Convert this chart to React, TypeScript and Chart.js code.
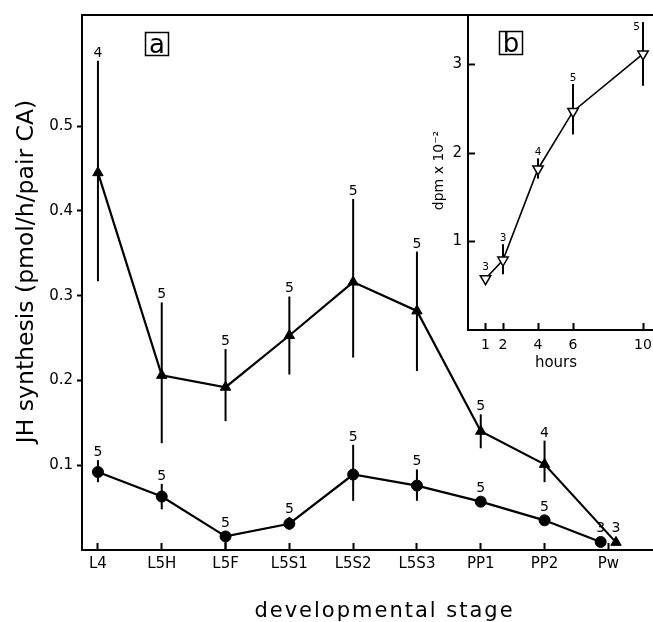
import React, { useEffect, useRef } from 'react';
import { Chart, registerables } from 'chart.js';
Chart.register(...registerables);

const FONT = 'DejaVu Sans';

// ---- Panel a : JH synthesis by developmental stage ----
const stages = ['L4', 'L5H', 'L5F', 'L5S1', 'L5S2', 'L5S3', 'PP1', 'PP2', 'Pw'];
const triMean = [0.445, 0.206, 0.192, 0.253, 0.316, 0.282, 0.140, 0.101, 0.009];
const triLow = [0.317, 0.126, 0.152, 0.207, 0.227, 0.211, 0.120, 0.080, 0.009];
const triHigh = [0.577, 0.292, 0.237, 0.299, 0.414, 0.352, 0.160, 0.129, 0.009];
const triN = [4, 5, 5, 5, 5, 5, 5, 4, 3];
const circMean = [0.092, 0.063, 0.016, 0.031, 0.089, 0.076, 0.057, 0.035, 0.0095];
const circLow = [0.080, 0.048, 0.0, 0.024, 0.058, 0.058, 0.054, 0.032, 0.0095];
const circHigh = [0.106, 0.078, 0.022, 0.039, 0.124, 0.095, 0.060, 0.038, 0.0095];
const circN = [5, 5, 5, 5, 5, 5, 5, 5, 3];
const yTicksA = [0.1, 0.2, 0.3, 0.4, 0.5];

// ---- Panel b : dpm vs hours ----
const hours = [1, 2, 4, 6, 10];
const dpm = [0.58, 0.79, 1.82, 2.47, 3.12];
const dpmLow = [0.55, 0.63, 1.71, 2.21, 2.76];
const dpmHigh = [0.61, 0.97, 1.94, 2.78, 3.48];
const dpmN = [3, 3, 4, 5, 5];
const hourTicks = [1, 2, 4, 6, 10];
const dpmTicks = [1, 2, 3];

const lastIdx = stages.length - 1;
const dodge = 0.12;
const triX = stages.map((_, i) => i + (i === lastIdx ? dodge : 0));
const circX = stages.map((_, i) => i - (i === lastIdx ? dodge : 0));

type Series = { xs: number[]; mean: number[]; low: number[]; high: number[]; n: number[]; radius: number; barWidth: number };

function makeErrorPlugin(id: string, series: Series[], fontSize: number, gap: number) {
  return {
    id,
    beforeDatasetsDraw(chart: any) {
      const { ctx, scales } = chart;
      const x = scales.x, y = scales.y;
      ctx.save();
      ctx.strokeStyle = '#000';
      series.forEach((s) => {
        ctx.lineWidth = s.barWidth;
        s.xs.forEach((xv, i) => {
          const px = x.getPixelForValue(xv);
          ctx.beginPath();
          ctx.moveTo(px, y.getPixelForValue(s.low[i]));
          ctx.lineTo(px, y.getPixelForValue(s.high[i]));
          ctx.stroke();
        });
      });
      ctx.restore();
    },
    afterDatasetsDraw(chart: any) {
      const { ctx, chartArea, scales } = chart;
      const x = scales.x, y = scales.y;
      ctx.save();
      ctx.fillStyle = '#000';
      ctx.font = `${fontSize}px "${FONT}"`;
      ctx.textBaseline = 'alphabetic';
      series.forEach((s) => {
        s.xs.forEach((xv, i) => {
          const px = x.getPixelForValue(xv);
          const top = Math.min(y.getPixelForValue(s.high[i]), y.getPixelForValue(s.mean[i]) - s.radius);
          let bx = px;
          let by = top - gap;
          ctx.textAlign = 'center';
          if (by - fontSize * 0.75 < chartArea.top + 2) {
            ctx.textAlign = 'right';
            bx = px - 3;
            by = top + fontSize * 0.8;
          }
          ctx.fillText(String(s.n[i]), bx, by);
        });
      });
      ctx.restore();
    },
  };
}

function boxLabel(ctx: any, text: string, left: number, top: number, size: number, fontSize: number) {
  ctx.save();
  ctx.strokeStyle = '#000';
  ctx.lineWidth = 1.5;
  ctx.strokeRect(left + 0.5, top + 0.5, size, size);
  ctx.fillStyle = '#000';
  ctx.font = `${fontSize}px "${FONT}"`;
  ctx.textAlign = 'center';
  ctx.textBaseline = 'alphabetic';
  ctx.fillText(text, left + size / 2 + 0.5, top + size - 2);
  ctx.restore();
}

const mainAnnot = {
  id: 'mainAnnot',
  afterDraw(chart: any) {
    const { ctx, chartArea } = chart;
    ctx.save();
    ctx.strokeStyle = '#000';
    ctx.lineWidth = 2;
    ctx.beginPath();
    ctx.moveTo(chartArea.left, chartArea.top);
    ctx.lineTo(chartArea.right, chartArea.top);
    ctx.stroke();
    ctx.fillStyle = '#000';
    ctx.font = `23.5px "${FONT}"`;
    ctx.textAlign = 'center';
    ctx.textBaseline = 'alphabetic';
    ctx.save();
    ctx.translate(33, (chartArea.top + chartArea.bottom) / 2 - 11);
    ctx.rotate(-Math.PI / 2);
    ctx.fillText('JH synthesis (pmol/h/pair CA)', 0, 0);
    ctx.restore();
    ctx.font = `21px "${FONT}"`;
    (ctx as any).letterSpacing = '2px';
    ctx.fillText('developmental stage', (chartArea.left + chartArea.right) / 2 + 17, 617);
    (ctx as any).letterSpacing = '0px';
    ctx.restore();
    boxLabel(ctx, 'a', chartArea.left + 63, chartArea.top + 17, 23, 26);
  },
};

const insetAnnot = {
  id: 'insetAnnot',
  afterDraw(chart: any) {
    const { ctx, chartArea } = chart;
    ctx.save();
    ctx.fillStyle = '#000';
    ctx.textAlign = 'center';
    ctx.textBaseline = 'alphabetic';
    ctx.font = `14px "${FONT}"`;
    ctx.save();
    ctx.translate(chartArea.left - 25, (chartArea.top + chartArea.bottom) / 2 - 2);
    ctx.rotate(-Math.PI / 2);
    ctx.fillText('dpm x 10⁻²', 0, 0);
    ctx.restore();
    ctx.font = `15px "${FONT}"`;
    ctx.fillText('hours', chartArea.left + 88, chartArea.bottom + 37);
    ctx.restore();
    boxLabel(ctx, 'b', chartArea.left + 31, chartArea.top + 16, 23, 26);
  },
};

const noPadX = (h: number) => (s: any) => { s.height = h; s.paddingLeft = 0; s.paddingRight = 0; };
const noPadY = (w: number) => (s: any) => { s.width = w; s.paddingTop = 0; s.paddingBottom = 0; };

export default function App() {
  const mainRef = useRef<HTMLCanvasElement>(null);
  const insetRef = useRef<HTMLCanvasElement>(null);

  useEffect(() => {
    Chart.defaults.font.family = FONT;
    Chart.defaults.color = '#000';

    const mainErr = makeErrorPlugin('errA', [
      { xs: triX, mean: triMean, low: triLow, high: triHigh, n: triN, radius: 6, barWidth: 2 },
      { xs: circX, mean: circMean, low: circLow, high: circHigh, n: circN, radius: 5.5, barWidth: 2 },
    ], 14, 4);

    const main = new Chart(mainRef.current as HTMLCanvasElement, {
      type: 'line',
      data: {
        datasets: [
          {
            label: 'triangles',
            data: triX.map((x, i) => ({ x, y: triMean[i] })),
            borderColor: '#000',
            borderWidth: 2.2,
            pointStyle: 'triangle',
            pointRadius: 6,
            pointBackgroundColor: '#000',
            pointBorderColor: '#000',
            pointBorderWidth: 1,
            tension: 0,
          },
          {
            label: 'circles',
            data: circX.map((x, i) => ({ x, y: circMean[i] })),
            borderColor: '#000',
            borderWidth: 2.2,
            pointStyle: 'circle',
            pointRadius: 5.5,
            pointBackgroundColor: '#000',
            pointBorderColor: '#000',
            pointBorderWidth: 1,
            tension: 0,
          },
        ],
      },
      options: {
        responsive: false,
        animation: false,
        layout: { autoPadding: false, padding: { top: 15, left: 0, right: 0, bottom: 0 } },
        plugins: { legend: { display: false }, tooltip: { enabled: false } },
        scales: {
          x: {
            type: 'linear',
            min: -0.25,
            max: 8.7,
            afterBuildTicks: (s: any) => { s.ticks = stages.map((_, i) => ({ value: i })); },
            afterFit: noPadX(72),
            ticks: {
              autoSkip: false,
              maxRotation: 0,
              padding: 12,
              font: { family: FONT, size: 15 },
              color: '#000',
              callback: (v: any) => stages[v as number] ?? '',
            },
            grid: { drawOnChartArea: false, drawTicks: true, tickLength: -7, tickWidth: 2, tickColor: '#000' },
            border: { display: true, color: '#000', width: 2 },
          },
          y: {
            min: 0,
            max: 0.631,
            afterBuildTicks: (s: any) => { s.ticks = yTicksA.map((v) => ({ value: v })); },
            afterFit: noPadY(82),
            ticks: {
              padding: 4,
              font: { family: FONT, size: 15 },
              color: '#000',
              callback: (v: any) => Number(v).toFixed(1),
            },
            grid: { drawOnChartArea: false, drawTicks: true, tickLength: 5, tickWidth: 2, tickColor: '#000' },
            border: { display: true, color: '#000', width: 2 },
          },
        },
      },
      plugins: [mainErr, mainAnnot],
    } as any);

    const insetErr = makeErrorPlugin('errB', [
      { xs: hours, mean: dpm, low: dpmLow, high: dpmHigh, n: dpmN, radius: 6, barWidth: 2 },
    ], 10.5, 3);

    const inset = new Chart(insetRef.current as HTMLCanvasElement, {
      type: 'line',
      data: {
        datasets: [
          {
            label: 'dpm',
            data: hours.map((x, i) => ({ x, y: dpm[i] })),
            borderColor: '#000',
            borderWidth: 1.6,
            pointStyle: 'triangle',
            rotation: 180,
            pointRadius: 6,
            pointBackgroundColor: '#fff',
            pointBorderColor: '#000',
            pointBorderWidth: 1.5,
            tension: 0,
          },
        ],
      },
      options: {
        responsive: false,
        animation: false,
        layout: { autoPadding: false, padding: { top: 15, left: 0, right: 0, bottom: 0 } },
        plugins: { legend: { display: false }, tooltip: { enabled: false } },
        scales: {
          x: {
            type: 'linear',
            min: 0,
            max: 10.57,
            afterBuildTicks: (s: any) => { s.ticks = hourTicks.map((v) => ({ value: v })); },
            afterFit: noPadX(50),
            ticks: { autoSkip: false, maxRotation: 0, padding: 14, font: { family: FONT, size: 14 }, color: '#000' },
            grid: { drawOnChartArea: false, drawTicks: true, tickLength: -7, tickWidth: 2, tickColor: '#000' },
            border: { display: true, color: '#000', width: 2 },
          },
          y: {
            min: 0,
            max: 3.56,
            afterBuildTicks: (s: any) => { s.ticks = dpmTicks.map((v) => ({ value: v })); },
            afterFit: noPadY(48),
            ticks: { padding: 13, font: { family: FONT, size: 15 }, color: '#000' },
            grid: { drawOnChartArea: false, drawTicks: true, tickLength: -7, tickWidth: 2, tickColor: '#000' },
            border: { display: true, color: '#000', width: 2 },
          },
        },
      },
      plugins: [insetErr, insetAnnot],
    } as any);

    return () => {
      main.destroy();
      inset.destroy();
    };
  }, []);

  return (
    <div style={{ position: 'absolute', left: 0, top: 0, width: 653, height: 622, background: '#fff', overflow: 'hidden' }}>
      <canvas ref={mainRef} width={653} height={622} style={{ position: 'absolute', left: 0, top: 0, width: 653, height: 622, display: 'block' }} />
      <canvas ref={insetRef} width={233} height={380} style={{ position: 'absolute', left: 420, top: 0, width: 233, height: 380, display: 'block' }} />
    </div>
  );
}
